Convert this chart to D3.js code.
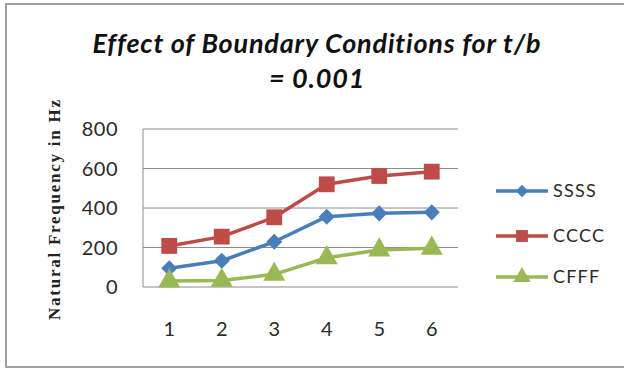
<!DOCTYPE html>
<html><head><meta charset="utf-8">
<script src="https://cdn.jsdelivr.net/npm/d3@7/dist/d3.min.js"></script>
<style>body{margin:0;background:#fff}svg{display:block}</style>
</head><body>
<svg id="c" width="624" height="368"></svg>
<script>
const categories = ["1","2","3","4","5","6"];
const seriesNames = ["SSSS","CCCC","CFFF"];
const ssss = [95, 133, 229, 356, 373, 378];
const cccc = [208, 255, 353, 520, 562, 584];
const cfff = [30, 33, 64, 148, 187, 196];
const yTicks = [0, 200, 400, 600, 800];
const titleLines = ["Effect of Boundary Conditions for t/b", "= 0.001"];
const yTitle = "Natural Frequency in Hz";

const colors = {SSSS:"#4A7EBB", CCCC:"#BE4B48", CFFF:"#98B954"};
const shapes = {SSSS:d3.symbolDiamond2, CCCC:d3.symbolSquare, CFFF:d3.symbolTriangle};
const markerSize = {SSSS:165, CCCC:250, CFFF:210};
const legendMarkerSize = {SSSS:100, CCCC:140, CFFF:130};
const data = [
  {name:"SSSS", values:ssss},
  {name:"CCCC", values:cccc},
  {name:"CFFF", values:cfff}
];

const svg = d3.select("#c");
// frame
svg.append("rect").attr("x",6).attr("y",4).attr("width",630).attr("height",363)
  .attr("fill","#fff").attr("stroke","#a0a0a0").attr("stroke-width",2);

const pL=143, pR=458, pT=129, pB=287;
const x = d3.scaleBand().domain(categories).range([pL,pR]);
const y = d3.scaleLinear().domain([0,800]).range([pB,pT]);

// gridlines
svg.append("g").selectAll("line").data(yTicks).join("line")
  .attr("x1",pL).attr("x2",pR).attr("y1",d=>y(d)).attr("y2",d=>y(d))
  .attr("stroke","#8c8c8c").attr("stroke-width",1);
svg.append("line").attr("x1",pL).attr("x2",pL).attr("y1",pT).attr("y2",pB)
  .attr("stroke","#8c8c8c").attr("stroke-width",1);

const tickFont = "Lato, 'Open Sans', sans-serif";
// y tick labels
svg.append("g").selectAll("text").data(yTicks).join("text")
  .attr("x",118).attr("y",d=>y(d)).attr("dy","0.36em")
  .attr("text-anchor","end").attr("font-family",tickFont).attr("font-size",20)
  .attr("letter-spacing",0.5).attr("fill","#2a2a2a").text(d=>d);
// x tick labels
svg.append("g").selectAll("text").data(categories).join("text")
  .attr("x",d=>x(d)+x.bandwidth()/2).attr("y",336)
  .attr("text-anchor","middle").attr("font-family",tickFont).attr("font-size",20)
  .attr("fill","#2a2a2a").text(d=>d);

// lines
const line = d3.line().x((d,i)=>x(categories[i])+x.bandwidth()/2).y(d=>y(d));
data.forEach(s=>{
  svg.append("path").attr("d",line(s.values)).attr("fill","none")
    .attr("stroke",colors[s.name]).attr("stroke-width",3.5).attr("stroke-linejoin","round");
});
data.forEach(s=>{
  svg.append("g").selectAll("path").data(s.values).join("path")
    .attr("transform",(d,i)=>`translate(${x(categories[i])+x.bandwidth()/2},${y(d)})`)
    .attr("d",d3.symbol().type(shapes[s.name]).size(markerSize[s.name]))
    .attr("fill",colors[s.name]);
});

// legend
const legY = [191,236,277];
data.forEach((s,i)=>{
  const g = svg.append("g");
  g.append("line").attr("x1",496).attr("x2",548).attr("y1",legY[i]).attr("y2",legY[i])
    .attr("stroke",colors[s.name]).attr("stroke-width",3.5);
  g.append("path").attr("transform",`translate(522,${legY[i]})`)
    .attr("d",d3.symbol().type(shapes[s.name]).size(legendMarkerSize[s.name])).attr("fill",colors[s.name]);
  g.append("text").attr("x",553).attr("y",legY[i]).attr("dy","0.36em")
    .attr("font-family",tickFont).attr("font-size",18).attr("letter-spacing",1.2)
    .attr("fill","#2a2a2a").text(s.name);
});

// title
const tt = svg.append("text").attr("text-anchor","middle").attr("font-family",tickFont)
  .attr("font-style","italic").attr("font-weight","bold").attr("font-size",27)
  .attr("letter-spacing",0.8).attr("fill","#111");
tt.append("tspan").attr("x",317).attr("y",53).text(titleLines[0]);
tt.append("tspan").attr("x",317).attr("y",88).text(titleLines[1]);

// y title
svg.append("text").attr("transform","translate(60,210) rotate(-90)")
  .attr("text-anchor","middle").attr("font-family","'Liberation Serif', 'Times New Roman', serif")
  .attr("font-weight","bold").attr("font-size",17).attr("fill","#222")
  .attr("textLength",220).attr("lengthAdjust","spacing").text(yTitle);
</script>
</body></html>
